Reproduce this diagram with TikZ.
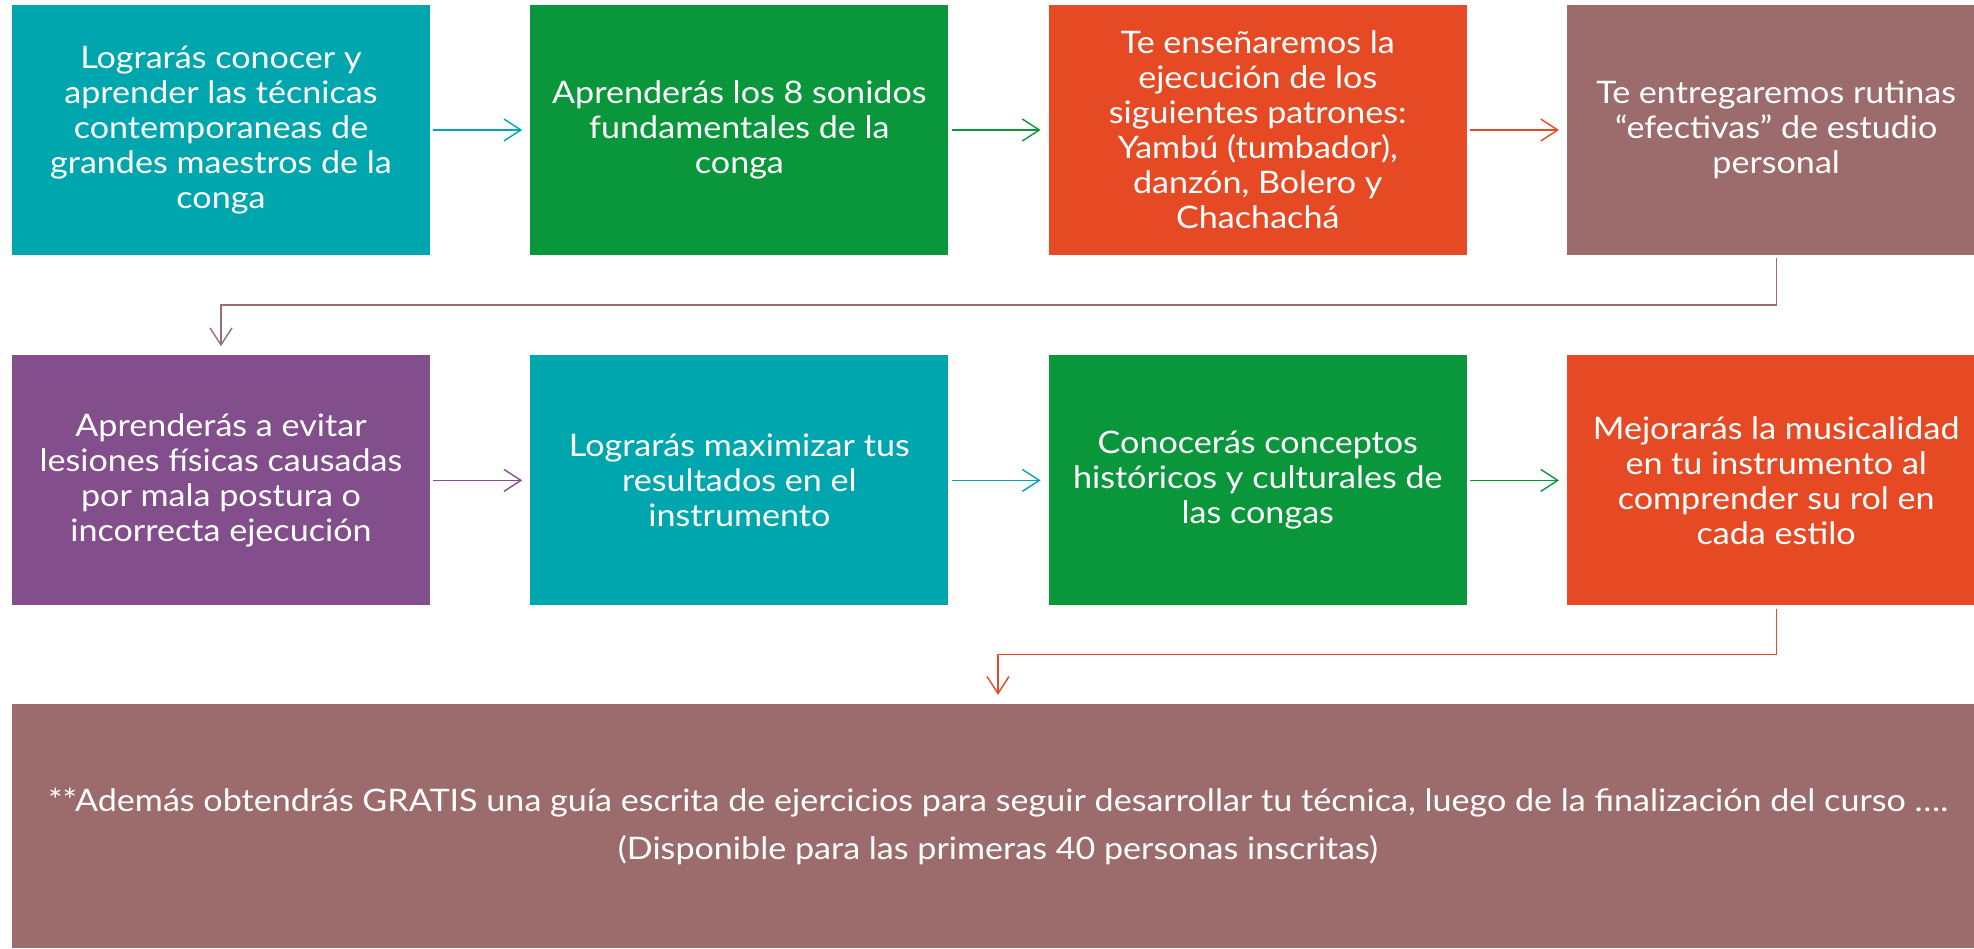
\documentclass[tikz,border=0pt]{standalone}
\usepackage{fontspec}
\setmainfont{Lato}[FakeStretch=1.1]
\usetikzlibrary{positioning, arrows.meta, calc}

\definecolor{c_teal}{HTML}{00A6AD}
\definecolor{c_green}{HTML}{0A973C}
\definecolor{c_orange}{HTML}{E64A24}
\definecolor{c_mauve}{HTML}{9C6B6B}
\definecolor{c_purple}{HTML}{834E8C}

\begin{document}
\begin{tikzpicture}[
		x=1pt, y=-1pt,
		>={Straight Barb[length=17pt, width=22pt]},
		node distance=100pt,
		% Box Styles
		box/.style={rectangle, draw=none, text=white, minimum width=418pt, minimum height=250pt, inner sep=0pt, align=center, font=\fontsize{31pt}{35pt}\selectfont},
		box_teal/.style={box, fill=c_teal},
		box_green/.style={box, fill=c_green},
		box_orange/.style={box, fill=c_orange},
		box_mauve/.style={box, fill=c_mauve},
		box_purple/.style={box, fill=c_purple},
		% Edge Styles
		step_edge/.style={->, line width=1.4pt, shorten <=3pt, shorten >=8pt},
		turn_edge/.style={->, line width=1.4pt, shorten <=3pt, shorten >=9pt}
		]
		\useasboundingbox (0,0) rectangle (1974,949);
		
		% --- 1. FIRST ROW ---
		\node[box_teal] (B1) at (221,130) {Lograrás conocer y\\aprender las técnicas\\contemporaneas de\\grandes maestros de la\\conga};
		\node[box_green, right=of B1] (B2) {Aprenderás los 8 sonidos\\fundamentales de la\\conga};
		\node[box_orange, right=of B2] (B3) {Te enseñaremos la\\ejecución de los\\siguientes patrones:\\Yambú (tumbador),\\danzón, Bolero y\\Chachachá};
		\node[box_mauve, right=of B3] (B4) {Te entregaremos rutinas\\“efectivas” de estudio\\personal};
		
		% --- 2. SECOND ROW ---
		\node[box_purple, below=of B1] (B5) {Aprenderás a evitar\\lesiones físicas causadas\\por mala postura o\\incorrecta ejecución};
		\node[box_teal, right=of B5] (B6) {Lograrás maximizar tus\\resultados en el\\instrumento};
		\node[box_green, right=of B6] (B7) {Conocerás conceptos\\históricos y culturales de\\las congas};
		\node[box_orange, right=of B7] (B8) {Mejorarás la musicalidad\\en tu instrumento al\\comprender su rol en\\cada estilo};
		
		% --- 3. NOTE ---
		\node[box_mauve, minimum width=1972pt, minimum height=244pt] (Note) at (998,826) {**Además obtendrás GRATIS una guía escrita de ejercicios para seguir desarrollar tu técnica, luego de la finalización del curso ….\\[13pt](Disponible para las primeras 40 personas inscritas)};
		
		% ================= TRANSITIONS =================
		\draw[step_edge, c_teal] (B1) -- (B2);
		\draw[step_edge, c_green] (B2) -- (B3);
		\draw[step_edge, c_orange] (B3) -- (B4);
		
		\draw[step_edge, c_purple] (B5) -- (B6);
		\draw[step_edge, c_teal] (B6) -- (B7);
		\draw[step_edge, c_green] (B7) -- (B8);
		
		% Row changes
		\draw[turn_edge, c_mauve] (B4.south) -- ++(0,-50pt) -| (B5.north);
		\draw[turn_edge, c_orange] (B8.south) -- ++(0,-49pt) -| (Note.north);
		
	\end{tikzpicture}
\end{document}
